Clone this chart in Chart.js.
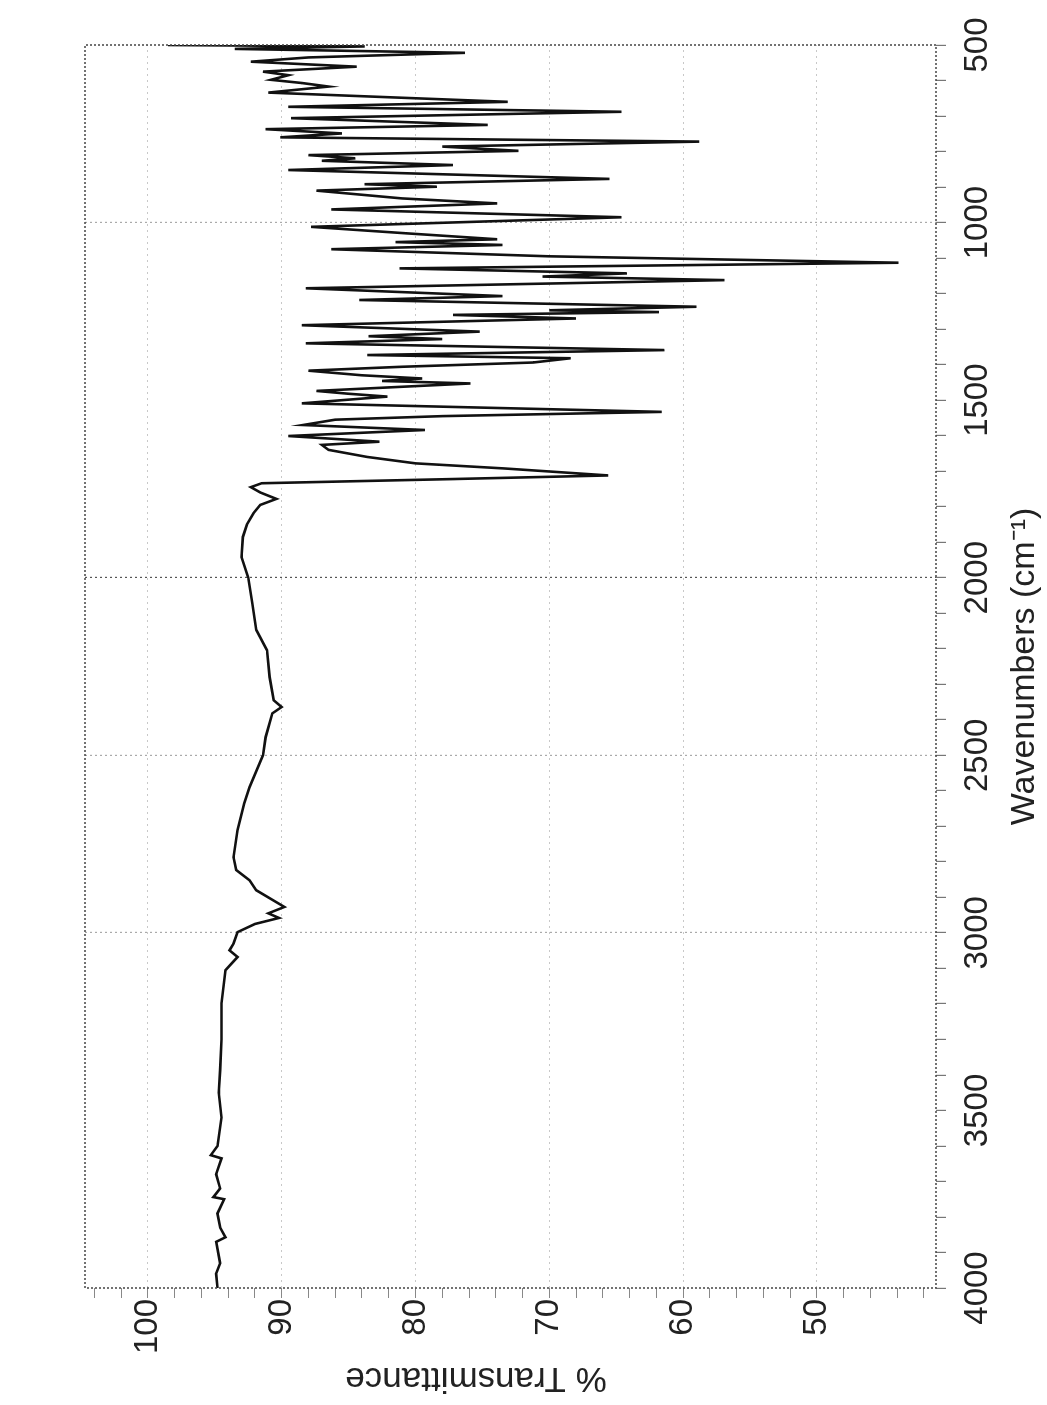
<!DOCTYPE html>
<html>
<head>
<meta charset="utf-8">
<script src="https://cdn.jsdelivr.net/npm/chart.js@4.4.1/dist/chart.umd.min.js"></script>
<style>
  html, body { margin: 0; padding: 0; background: #fff; overflow: hidden; }
  body { width: 1047px; height: 1405px; position: relative; }
  #wrap {
    position: absolute; left: 0; top: 0;
    width: 1405px; height: 1047px;
    transform-origin: 0 0;
    transform: translate(0px, 1405px) rotate(-90deg);
  }
  canvas { display: block; }
</style>
</head>
<body>
<div id="wrap"><canvas id="c" width="1405" height="1047" style="width:1405px;height:1047px"></canvas></div>
<script>
// ---- data (wavenumber cm-1, % transmittance) ----
const wavenumbers = [
  500, 504, 511, 522, 535, 547, 561, 575, 585, 598, 607, 617, 634, 660, 674, 688,
  706, 725, 737, 749, 760, 772, 786, 798, 810, 819, 826, 838, 852, 877, 892, 899,
  910, 932, 946, 963, 985, 1012, 1030, 1047, 1055, 1063, 1075, 1095, 1113, 1129,
  1143, 1152, 1162, 1185, 1207, 1218, 1237, 1247, 1252, 1260, 1270, 1289, 1307,
  1320, 1328, 1340, 1359, 1373, 1382, 1394, 1406, 1417, 1430, 1439, 1446, 1453,
  1474, 1482, 1490, 1509, 1533, 1545, 1555, 1570, 1584, 1601, 1617, 1626, 1640,
  1660, 1678, 1692, 1712, 1722, 1734, 1745, 1760, 1778, 1795, 1818, 1850, 1885,
  1942, 2000, 2071, 2147, 2204, 2280, 2345, 2364, 2382, 2449, 2500, 2590, 2635,
  2711, 2787, 2823, 2852, 2880, 2927, 2945, 2958, 2975, 2998, 3030, 3049, 3068,
  3105, 3198, 3300, 3387, 3450, 3520, 3575, 3600, 3626, 3635, 3680, 3720, 3744,
  3750, 3790, 3830, 3857, 3870, 3930, 3960, 4000
];
const transmittance = [
  98.5, 83.8, 93.5, 76.3, 88.0, 92.3, 84.4, 91.4, 89.5, 90.8, 88.5, 86.5, 91.0, 73.1, 89.5, 64.6,
  89.3, 74.6, 91.2, 85.5, 90.1, 58.8, 78.0, 72.3, 88.0, 84.5, 87.0, 77.2, 89.5, 65.5, 83.8, 78.4,
  87.4, 81.0, 73.9, 86.3, 64.6, 87.8, 80.8, 73.9, 81.5, 73.5, 86.3, 70.0, 43.9, 81.2,
  64.2, 70.5, 56.9, 88.2, 73.5, 84.2, 59.0, 70.0, 61.8, 77.2, 68.0, 88.5, 75.2,
  83.5, 78.0, 88.2, 61.4, 83.6, 68.4, 71.2, 81.0, 88.0, 84.0, 79.5, 82.5, 75.9,
  87.4, 85.0, 82.1, 88.5, 61.6, 78.0, 86.0, 88.4, 79.3, 89.5, 82.7, 87.0, 86.5,
  83.6, 80.0, 73.5, 65.6, 77.0, 91.5, 92.3, 91.6, 90.4, 91.6, 92.1, 92.6, 92.9,
  93.0, 92.5, 92.2, 91.9, 91.1, 90.9, 90.6, 90.0, 90.7, 91.2, 91.4, 92.4, 92.8,
  93.3, 93.6, 93.4, 92.4, 91.9, 89.8, 91.0, 90.2, 92.0, 93.3, 93.6, 93.9, 93.3,
  94.2, 94.5, 94.5, 94.6, 94.7, 94.5, 94.7, 94.8, 95.3, 94.5, 94.9, 94.6, 95.1,
  94.3, 94.8, 94.6, 94.2, 94.9, 94.6, 94.9, 94.8
];
const xTickLabels = [500, 1000, 1500, 2000, 2500, 3000, 3500, 4000];
const yTickLabels = [50, 60, 70, 80, 90, 100];
const xGridValues = [1000, 2000, 2500, 3000];
const xTitle = 'Wavenumbers (cm\u207B\u00B9)';
const yTitle = '% Transmittance';

const points = wavenumbers.map((w, i) => ({ x: w, y: transmittance[i] }));

const FONT = '"Liberation Sans", Arial, Helvetica, sans-serif';

const frame = {
  id: 'frame',
  afterDraw(chart) {
    const a = chart.chartArea, ctx = chart.ctx;
    ctx.save();
    ctx.setLineDash([2, 2]);
    ctx.strokeStyle = '#444';
    ctx.lineWidth = 1.5;
    ctx.strokeRect(a.left, a.top, a.right - a.left, a.bottom - a.top);
    ctx.restore();
    // y-axis title (placed a little above the plot centre, as in the reference)
    ctx.save();
    ctx.fillStyle = '#222';
    ctx.font = '35px ' + FONT;
    ctx.textAlign = 'center';
    ctx.textBaseline = 'middle';
    ctx.translate(27, 476);
    ctx.rotate(-Math.PI / 2);
    ctx.fillText(yTitle, 0, 0);
    ctx.restore();
  }
};

new Chart(document.getElementById('c'), {
  type: 'line',
  data: {
    datasets: [{
      data: points,
      borderColor: '#111',
      borderWidth: 2.6,
      pointRadius: 0,
      tension: 0,
      fill: false
    }]
  },
  options: {
    responsive: false,
    animation: false,
    devicePixelRatio: 1,
    layout: { padding: { top: 85, right: 45, left: 0, bottom: 0 } },
    plugins: { legend: { display: false }, tooltip: { enabled: false } },
    scales: {
      x: {
        type: 'linear',
        reverse: true,
        min: 500,
        max: 4000,
        afterBuildTicks(scale) {
          const t = [];
          for (let v = 500; v <= 4000; v += 100) t.push({ value: v });
          scale.ticks = t;
        },
        afterFit(scale) { scale.height = 111; },
        ticks: {
          autoSkip: false,
          maxRotation: 0,
          minRotation: 0,
          padding: 12,
          color: '#222',
          font: { family: FONT, size: 33 },
          callback: (v) => xTickLabels.includes(v) ? String(v) : ''
        },
        grid: {
          drawOnChartArea: true,
          tickLength: 10,
          tickColor: '#777',
          lineWidth: 1.2,
          color: (c) => {
            const v = c.tick && c.tick.value;
            if (v === 2000) return '#555';
            return xGridValues.includes(v) ? '#aaa' : 'rgba(0,0,0,0)';
          }
        },
        border: { display: false, dash: [2, 3] },
        title: {
          display: true,
          text: xTitle,
          color: '#222',
          font: { family: FONT, size: 34 },
          padding: { top: 0, bottom: 2 }
        }
      },
      y: {
        type: 'linear',
        min: 41.1,
        max: 104.7,
        afterBuildTicks(scale) {
          const t = [];
          for (let v = 42; v <= 104; v += 2) t.push({ value: v });
          scale.ticks = t;
        },
        afterFit(scale) { scale.width = 117; },
        ticks: {
          autoSkip: false,
          padding: 1,
          color: '#222',
          font: { family: FONT, size: 33 },
          callback: (v) => yTickLabels.includes(v) ? String(v) : ''
        },
        grid: {
          tickLength: 10,
          tickColor: '#888',
          lineWidth: 1,
          color: (c) => {
            const v = c.tick && c.tick.value;
            return yTickLabels.includes(v) ? '#c8c8c8' : 'rgba(0,0,0,0)';
          }
        },
        border: { display: false, dash: [2, 4] },
        title: { display: false }
      }
    }
  },
  plugins: [frame]
});
</script>
</body>
</html>
